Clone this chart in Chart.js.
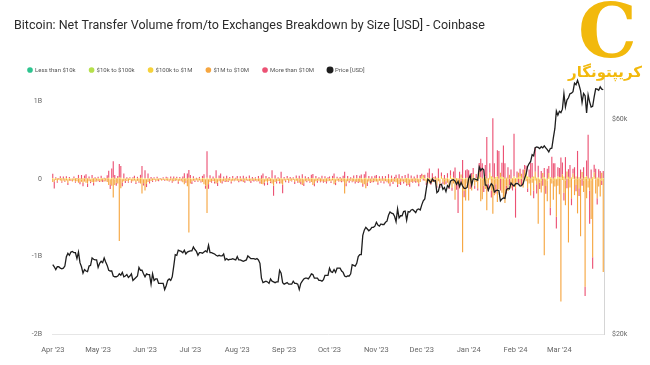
<!DOCTYPE html>
<html><head><meta charset="utf-8">
<script src="https://cdn.jsdelivr.net/npm/chart.js@4.4.0/dist/chart.umd.min.js"></script>
<style>
html,body{margin:0;padding:0;background:#fff;}
#wrap{position:relative;width:650px;height:365px;overflow:hidden;}
canvas{display:block;}
.logoC{position:absolute;left:578px;top:-6px;font-family:'DejaVu Serif',serif;font-weight:bold;font-size:74px;color:#f2b90c;line-height:1;}
.logoT{position:absolute;left:564px;top:63px;width:82px;text-align:center;font-family:'DejaVu Sans',sans-serif;font-weight:bold;font-size:15px;color:#f2b90c;line-height:1.2;direction:rtl;}
</style></head><body>
<div id="wrap"><canvas id="c" width="650" height="365"></canvas>
<div class="logoC">C</div><div class="logoT">کریپتونگار</div></div>
<script>
// Daily values, Apr 1 2023 .. Mar 30 2024 (365 days)
const startYear = 2023, startMonth = 3; // April (0-based)
const monthTickLabels = ["Apr '23","May '23","Jun '23","Jul '23","Aug '23","Sep '23","Oct '23","Nov '23","Dec '23","Jan '24","Feb '24","Mar '24"];
const leftTicks = [1000, 0, -1000, -2000];   // USD millions
const rightTicks = [20, 60];                // USD thousands

// Price [USD], thousands
const price = [
 28.5,28.2,27.8,28.2,28.2,28.0,27.9,28.0,28.3,29.7,30.2,29.9,30.4,30.5,30.3,30.3,29.4,30.4,28.8,28.2,27.3,27.8,27.6,27.5,28.3,28.4,29.5,29.3,29.2,29.2,
 28.1,28.7,29.0,28.8,29.5,28.9,28.4,27.7,27.6,27.6,26.9,26.8,26.8,26.9,27.2,27.0,27.4,26.8,26.9,27.1,26.7,26.9,27.2,26.3,26.5,26.7,26.9,28.1,27.7,27.7,27.2,
 26.8,27.2,27.1,27.1,25.8,27.2,26.3,26.5,26.5,25.9,25.9,25.9,25.9,25.1,25.6,26.3,26.5,26.3,26.8,28.3,30.0,29.9,30.7,30.6,30.5,30.3,30.7,30.1,30.4,30.5,
 30.6,30.6,31.2,30.8,30.5,29.9,30.3,30.3,30.2,30.4,30.6,30.4,31.5,30.3,30.3,30.2,30.1,29.9,29.8,29.9,29.8,29.8,30.1,29.2,29.4,29.2,29.3,29.3,29.4,29.3,29.2,
 29.7,29.2,29.2,29.1,29.0,29.1,29.2,29.8,29.6,29.4,29.4,29.4,29.3,29.4,29.2,28.7,26.6,26.0,26.1,26.2,26.1,25.9,26.5,26.2,26.1,26.0,26.1,26.1,27.7,27.3,26.0,
 25.8,25.9,26.0,25.8,25.8,25.8,26.2,25.9,25.9,25.8,25.1,25.9,26.2,26.5,26.6,26.6,26.5,26.8,27.2,27.1,26.6,26.6,26.6,26.3,26.3,26.2,26.4,27.0,27.0,27.0,
 28.0,27.5,27.4,27.8,27.4,28.0,28.0,28.0,27.6,27.4,26.9,26.8,26.9,26.9,27.2,28.5,28.4,28.3,28.7,29.7,30.0,30.0,33.1,34.0,34.5,34.2,33.9,34.1,34.5,34.5,34.7,
 35.4,34.9,34.7,35.1,35.0,35.0,35.4,35.6,36.7,37.3,37.1,37.0,36.5,35.5,37.9,36.2,36.6,36.6,37.4,37.5,35.8,37.4,37.3,37.7,37.8,37.5,37.2,37.8,37.9,37.7,
 38.7,39.5,39.9,42.0,44.1,43.8,43.3,44.2,43.7,43.8,41.2,41.5,42.9,43.0,41.9,42.3,41.4,42.7,42.3,43.7,43.9,44.0,43.7,43.0,43.6,42.5,43.4,42.6,42.1,42.1,42.3,
 44.2,45.0,42.8,44.2,44.2,44.0,43.9,47.0,46.1,46.6,46.3,42.8,42.8,41.7,42.5,43.1,42.7,41.3,41.6,41.7,41.6,39.5,39.9,40.1,40.0,41.8,42.1,42.0,43.3,42.9,42.6,
 43.1,43.2,43.0,42.6,42.7,43.1,44.3,45.3,47.1,47.8,48.3,50.0,49.7,51.8,52.0,51.9,51.6,52.1,51.8,52.3,51.8,51.3,50.7,51.6,51.7,54.5,57.1,62.5,61.2,
 62.4,62.0,63.1,68.3,63.8,66.1,66.9,68.3,68.5,69.0,72.1,71.5,73.1,71.4,69.4,65.3,68.4,67.6,61.9,67.9,65.5,63.8,64.0,67.2,70.0,69.9,69.5,70.7,69.9,69.7
];

// More than $10M, USD millions
const moreThan10M = [
 55,-90,15,-20,10,25,-15,30,-10,20,-25,15,-10,5,20,-15,10,45,-30,50,-40,35,60,-45,25,-20,40,-35,20,-15,
 20,-15,30,-25,15,-10,40,90,-60,120,210,50,-40,30,170,150,-50,60,-30,20,-15,10,-20,15,30,-25,20,-10,40,150,-30,
 100,-40,60,-30,25,-20,15,-10,20,-15,10,-5,15,-10,20,10,-15,25,-20,30,-10,20,-25,15,-10,30,60,-20,70,100,
 40,-30,25,-20,15,-10,20,-15,30,50,-40,340,-60,40,-20,30,-25,100,-40,35,60,-30,25,-20,40,-15,20,-25,30,-10,15,
 30,-20,25,-15,40,-25,20,-10,35,-30,25,-20,15,-10,30,-25,45,60,-40,30,-35,25,-20,100,-130,40,-30,20,-25,80,-110,
 20,-15,30,-20,25,-10,15,-25,35,-20,40,-30,50,-35,30,-20,25,-15,45,50,-40,30,-25,20,-15,35,-20,25,-30,20,
 25,-20,30,60,-35,20,-15,25,-20,35,80,-40,30,-25,20,-15,35,-30,40,-25,30,45,-35,50,80,-40,30,-25,35,-20,30,
 40,-30,25,-20,35,-25,30,-15,50,-40,35,-30,25,45,-35,60,-40,30,-25,40,-30,55,-45,35,-20,30,-25,45,-35,40,
 30,-20,40,-30,60,125,-50,60,-40,35,-25,125,-60,45,-30,50,-40,60,-35,70,-45,80,145,-60,-400,90,-70,230,-80,100,110,
 100,-60,60,80,-40,50,-30,120,240,200,-80,150,540,-100,120,-90,760,200,-120,340,360,-150,180,410,200,-100,150,-80,120,-90,550,
 -380,80,-60,100,-80,120,60,90,-50,100,210,180,-100,315,-120,150,-80,100,-90,120,-100,130,90,-100,270,200,180,-150,120,
 120,250,150,-100,280,-120,100,180,-90,60,150,-80,360,-100,120,-90,150,-120,200,570,-430,120,-150,100,130,-80,110,100,-60,90
];

// $1M to $10M, USD millions
const from1Mto10M = [
 -40,-25,-15,-30,-10,-20,-35,-15,-30,-20,-45,-25,-15,-30,-20,-35,-25,-50,-40,-30,-55,-35,-45,-60,-30,-25,-40,-50,-30,-20,
 -30,-20,-35,-15,-25,-20,-40,-80,-60,-90,-240,-70,-50,-60,-800,-120,-40,-30,-25,-20,-35,-15,-25,-30,-20,-35,-25,-40,-60,-190,-50,
 -150,-60,-40,-30,-25,-20,-15,-20,-25,-15,-10,-20,-15,-10,-20,-25,-15,-20,-30,-25,-15,-20,-35,-25,-20,-40,-70,-30,-90,-690,
 -60,-30,-25,-20,-15,-30,-20,-25,-40,-70,-80,-440,-60,-40,-30,-25,-35,-60,-45,-30,-50,-25,-30,-20,-35,-25,-20,-30,-25,-20,-15,
 -25,-20,-30,-15,-35,-25,-20,-15,-30,-25,-20,-15,-25,-20,-30,-35,-60,-70,-40,-30,-45,-25,-35,-60,-80,-40,-30,-25,-35,-60,-70,
 -20,-25,-15,-30,-20,-25,-15,-35,-25,-30,-45,-40,-80,-50,-30,-25,-20,-35,-40,-80,-50,-30,-25,-20,-30,-35,-25,-40,-30,-25,
 -25,-30,-20,-70,-40,-25,-20,-30,-25,-35,-190,-50,-30,-25,-20,-30,-35,-25,-40,-30,-45,-50,-60,-70,-120,-45,-35,-30,-40,-25,-35,
 -35,-40,-25,-30,-20,-35,-30,-25,-60,-50,-40,-35,-30,-45,-70,-60,-40,-35,-30,-45,-60,-80,-50,-40,-30,-35,-25,-45,-55,-40,
 20,30,-25,-40,-30,-60,-20,-40,15,-45,-90,-30,-50,25,-40,-70,-30,-50,-90,30,-110,-60,-260,-80,-40,-120,40,-945,-150,-280,-60,
 -280,-60,-150,50,-80,-40,-120,60,-290,-250,-90,-130,-390,-60,80,-150,-450,-200,-70,-300,-120,60,-180,-250,-300,-90,-150,40,-110,-60,-100,
 -120,-40,60,-80,40,-100,80,-30,-120,-60,-200,-50,-150,90,-70,-580,-40,-150,60,-985,-80,-270,50,-370,-60,-250,-100,-475,-90,
 -200,-1580,60,-180,-320,80,-820,-100,-250,50,-200,-80,-430,-120,-730,70,-150,-1390,-250,-90,-150,-500,-1010,60,-180,-250,-100,-220,80,-1200
];

// $100k to $1M, USD millions
const from100kTo1M = [
 10,-8,6,12,-5,8,10,-6,7,12,-10,8,5,-4,9,11,-7,6,10,-8,12,7,-5,9,6,-10,8,11,-6,7,
 8,-6,10,7,-9,12,6,15,-10,12,18,-8,10,7,20,15,-6,9,5,-7,8,11,-5,7,10,-8,6,9,12,15,-6,
 10,-6,8,5,-4,7,6,-5,8,4,-3,6,5,-4,7,8,-5,6,9,-6,10,7,-4,8,6,-5,12,7,-6,14,
 8,-5,7,6,-4,9,5,-6,8,10,-7,15,-8,7,5,-4,8,12,-6,7,9,-5,6,8,-4,7,5,-6,8,6,-5,
 6,-4,8,5,-5,7,6,-4,9,5,-6,7,4,-3,6,8,-5,10,-7,6,8,-4,7,12,-8,6,5,-4,7,10,-6,
 5,-4,7,6,-5,8,4,-6,7,9,-5,6,10,-7,5,8,-4,6,9,11,-6,7,5,-4,8,6,-5,7,9,-6,
 6,-5,8,10,-6,7,5,-4,8,6,12,-7,6,5,-4,8,7,-5,9,6,10,12,-8,10,14,-7,8,6,-5,7,9,
 8,-6,7,5,-4,9,6,-5,10,-7,8,6,-5,9,12,-8,7,6,-4,8,10,12,-7,8,5,-4,7,9,-6,8,
 15,20,12,-8,18,10,-6,12,9,-7,14,10,-8,11,12,-6,9,13,-7,10,12,15,-9,11,8,-6,16,12,-8,10,14,
 12,-10,15,10,-8,12,18,25,20,-12,15,30,-15,12,-10,35,20,-12,25,30,-15,18,28,20,-10,15,-8,12,-10,10,30,
 10,15,20,30,25,-10,40,80,30,20,-15,25,30,-20,15,20,-10,-25,15,20,-12,-20,25,20,15,-18,20,-15,30,
 20,25,-15,30,-20,15,25,-12,18,20,-10,30,-15,20,-10,18,-20,25,35,-20,15,-18,20,22,-10,18,15,-8,-20,12
];

// Smaller tiers: flows below pixel resolution at this scale
const from10kTo100k = [];
const lessThan10k = [];

const dates = price.map((_, i) => new Date(Date.UTC(startYear, startMonth, 1 + i)));
const labels = dates.map(d => d.toISOString().slice(0, 10));

Chart.defaults.font.family = "Roboto, 'Noto Sans', sans-serif";

new Chart(document.getElementById('c'), {
  data: {
    labels,
    datasets: [
      {type:'bar', label:'Less than $10k', data: lessThan10k, backgroundColor:'#2ec48f', yAxisID:'y'},
      {type:'bar', label:'$10k to $100k', data: from10kTo100k, backgroundColor:'#b5e04b', yAxisID:'y'},
      {type:'bar', label:'$100k to $1M', data: from100kTo1M, backgroundColor:'#f6d23a', yAxisID:'y'},
      {type:'bar', label:'$1M to $10M', data: from1Mto10M, backgroundColor:'#f6a640', yAxisID:'y'},
      {type:'bar', label:'More than $10M', data: moreThan10M, backgroundColor:'#ec5274', yAxisID:'y'},
      {type:'line', label:'Price [USD]', data: price, yAxisID:'y1', borderColor:'#1e1e1e', backgroundColor:'#1e1e1e', borderWidth:1.3, pointRadius:0, tension:0, order:-1}
    ]
  },
  options: {
    responsive:false, animation:false, devicePixelRatio:1,
    layout:{padding:{left:14, right:0, top:0, bottom:0}},
    datasets:{bar:{barPercentage:1, categoryPercentage:0.75}},
    scales:{
      x:{stacked:true, grid:{display:false, drawTicks:false}, border:{display:true, color:'#e6e6e6'},
         ticks:{autoSkip:false, maxRotation:0, minRotation:0, padding:12, color:'#666', font:{size:7.5},
           callback(v, i){ const d = dates[i]; if (!d || d.getUTCDate() !== 1) return null;
             return monthTickLabels[(d.getUTCFullYear()-startYear)*12 + d.getUTCMonth() - startMonth]; }},
         afterFit(s){ s.height = 31; }},
      y:{stacked:true, position:'left', min:-2000, max:1300, grid:{display:false, drawTicks:false}, border:{display:false},
         ticks:{padding:10, color:'#666', font:{size:7}, callback:v => v === 0 ? '0' : (v/1000) + 'B'},
         afterBuildTicks(s){ s.ticks = leftTicks.map(v => ({value:v})); },
         afterFit(s){ s.width = 38; }},
      y1:{type:'logarithmic', position:'right', min:20, max:74, grid:{display:false, drawTicks:false}, border:{display:true, color:'#d5d5d5'},
         ticks:{padding:8, color:'#666', font:{size:7}, callback:v => '$' + v + 'k'},
         afterBuildTicks(s){ s.ticks = rightTicks.map(v => ({value:v})); },
         afterFit(s){ s.width = 46; }}
    },
    plugins:{
      title:{display:true, text:'Bitcoin: Net Transfer Volume from/to Exchanges Breakdown by Size [USD] - Coinbase', align:'start',
             color:'#2b2b2b', font:{size:12.5, weight:'normal'}, padding:{top:18, bottom:20}},
      legend:{display:true, position:'top', align:'start', maxHeight:25,
              labels:{usePointStyle:true, pointStyle:'circle', boxHeight:4, boxWidth:4, padding:14, color:'#555', font:{size:6},
                      sort:(a,b) => a.datasetIndex - b.datasetIndex}},
      tooltip:{enabled:false}
    }
  }
});
</script>
</body></html>
